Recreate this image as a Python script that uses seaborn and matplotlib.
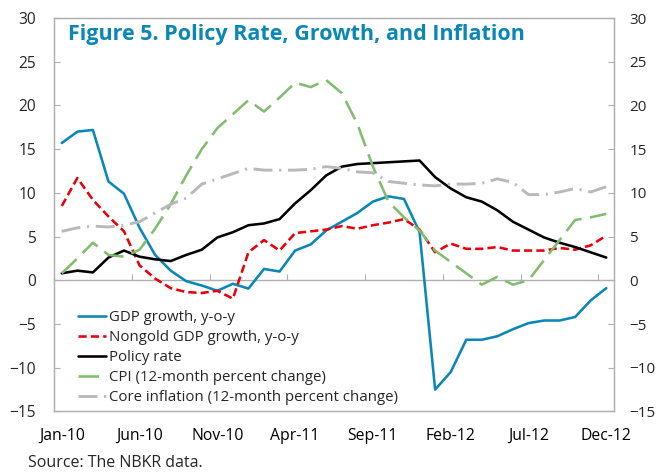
import pandas as pd
import matplotlib
matplotlib.use("Agg")
import matplotlib.pyplot as plt
import seaborn as sns

sns.set_style("white")
plt.rcParams['font.family'] = ['Open Sans', 'DejaVu Sans']

# Monthly data, Jan-10 .. Dec-12
months = pd.date_range("2010-01-01", "2012-12-01", freq="MS").strftime("%b-%y").tolist()

gdp = [15.7, 17.0, 17.2, 11.3, 9.9, 6.0, 2.9, 1.1, -0.1, -0.6, -1.2, -0.4,
       -0.95, 1.3, 1.0, 3.4, 4.1, 5.7, 6.7, 7.7, 9.0, 9.6, 9.3, 5.5,
       -12.5, -10.5, -6.8, -6.8, -6.4, -5.6, -4.9, -4.6, -4.6, -4.2, -2.3, -0.9]
nongold = [8.5, 11.7, 9.2, 7.3, 5.6, 1.7, 0.2, -0.9, -1.35, -1.45, -1.2, -2.1,
           3.2, 4.6, 3.4, 5.4, 5.6, 5.8, 6.2, 5.9, 6.3, 6.6, 7.0, 5.8,
           3.2, 4.2, 3.6, 3.6, 3.8, 3.4, 3.4, 3.4, 3.7, 3.5, 4.0, 5.1]
policy = [0.8, 1.1, 0.9, 2.6, 3.4, 2.7, 2.4, 2.2, 2.9, 3.5, 4.9, 5.5,
          6.3, 6.5, 7.0, 8.8, 10.3, 12.0, 13.0, 13.3, 13.4, 13.5, 13.6, 13.7,
          11.8, 10.5, 9.5, 9.0, 8.0, 6.7, 5.8, 4.9, 4.3, 3.8, 3.2, 2.6]
cpi = [0.8, 2.5, 4.3, 2.9, 2.7, 3.5, 5.9, 8.7, 12.0, 15.0, 17.4, 19.0,
       20.6, 19.3, 20.9, 22.6, 22.1, 22.9, 21.4, 17.9, 13.0, 9.0, 7.2, 5.7,
       3.4, 2.1, 0.8, -0.5, 0.4, -0.5, 0.0, 2.3, 4.6, 6.9, 7.2, 7.6]
core = [5.6, 6.0, 6.2, 6.1, 6.3, 6.7, 7.7, 8.7, 9.4, 11.0, 11.6, 12.2,
        12.8, 12.6, 12.6, 12.6, 12.7, 13.0, 12.8, 12.4, 12.3, 11.3, 11.1, 10.9,
        10.8, 11.0, 11.0, 11.1, 11.6, 11.2, 9.8, 9.8, 10.1, 10.5, 10.1, 10.7]

df = pd.DataFrame({'idx': range(len(months)), 'gdp': gdp, 'nongold': nongold,
                   'policy': policy, 'cpi': cpi, 'core': core})

fig = plt.figure(figsize=(6.57, 4.74), dpi=100)
ax = fig.add_axes([0.0822, 0.132, 0.8524, 0.830])

series = [
    ('gdp', 'GDP growth, y-o-y', '#0a87b5', '-', 1.85),
    ('nongold', 'Nongold GDP growth, y-o-y', '#e8000b', (0, (3.2, 1.6)), 1.85),
    ('policy', 'Policy rate', 'black', '-', 1.85),
    ('cpi', 'CPI (12-month percent change)', '#82bc6e', (0, (8, 3.3)), 1.85),
    ('core', 'Core inflation (12-month percent change)', '#b9b9b9',
     (0, (6.5, 2.3, 0.7, 2.3)), 2.1),
]
for col, name, color, ls, lw in series:
    sns.lineplot(data=df, x='idx', y=col, color=color, linewidth=lw,
                 linestyle=ls, label=name, ax=ax, legend=False)

ax.set_xlim(-0.5, 35.5)
ax.set_ylim(-15, 30)
ax.set_yticks(range(-15, 31, 5))
ax.set_xticks(range(0, 36, 5))
ax.set_xticklabels([months[i] for i in range(0, 36, 5)])
ax.set_xlabel('')
ax.set_ylabel('')
ax.tick_params(axis='x', length=0, pad=12, labelsize=11.3, colors='black')
ax.tick_params(axis='y', direction='in', length=4, color='#b0b0b0', pad=13,
               labelsize=11.2, left=True)
for s in ax.spines.values():
    s.set_color('#b0b0b0')
    s.set_linewidth(1.0)

# zero line with month-boundary ticks
zero = ax.secondary_xaxis(1 / 3)
zero.set_xticks([b - 0.5 for b in range(5, 36, 5)])
zero.tick_params(direction='in', length=4, color='#b0b0b0', labelbottom=False)
zero.spines['bottom'].set_color('#b0b0b0')
zero.spines['bottom'].set_linewidth(1.0)

ax2 = ax.twinx()
ax2.set_ylim(-15, 30)
ax2.set_yticks(range(-15, 31, 5))
ax2.tick_params(axis='y', direction='in', length=4, color='#b0b0b0', pad=11,
                labelsize=11)
for s in ax2.spines.values():
    s.set_color('#b0b0b0')

ax.text(0.025, 0.944, 'Figure 5. Policy Rate, Growth, and Inflation',
        transform=ax.transAxes, fontsize=15.5, fontweight='bold',
        color='#0a87b5', va='baseline')

ax.legend(loc='upper left', bbox_to_anchor=(0.033, 0.272), frameon=False,
          fontsize=10.8, handlelength=1.85, handletextpad=0.2, labelspacing=0.33,
          borderaxespad=0)

fig.text(28 / 657, 1 - 463 / 474, 'Source: The NBKR data.', fontsize=11.5,
         va='center', ha='left')

fig.savefig('out.png', dpi=100)
